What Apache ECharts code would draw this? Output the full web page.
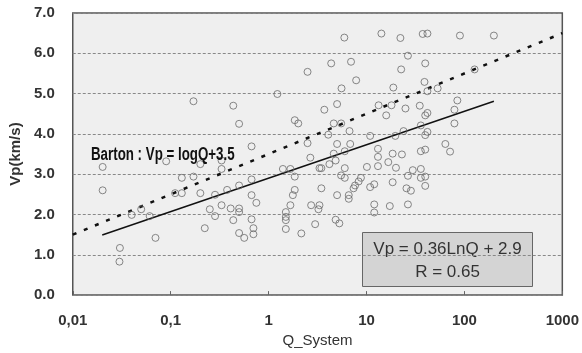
<!DOCTYPE html>
<html>
<head>
<meta charset="utf-8">
<script src="https://cdn.jsdelivr.net/npm/echarts@6/dist/echarts.min.js"></script>
<style>
html,body{margin:0;padding:0;background:#fff;}
#c{width:582px;height:353px;}
</style>
</head>
<body>
<div id="c"></div>
<script>
// Q_System values and measured Vp (km/s)
const qValues = [0.0202,0.0202,0.0303,0.03,0.040,0.050,0.061,0.070,0.090,0.111,0.130,0.130,0.171,0.171,0.201,0.201,0.223,0.251,0.284,0.284,0.331,0.331,0.331,0.377,0.410,0.436,0.436,0.50,0.50,0.50,0.50,0.50,0.564,0.67,0.67,0.67,0.67,0.70,0.70,0.75,1.23,1.40,1.50,1.50,1.50,1.50,1.67,1.67,1.77,1.85,1.85,1.85,2.01,2.16,2.50,2.50,2.67,2.72,2.99,3.23,3.31,3.31,3.46,3.46,3.71,4.07,4.18,4.36,4.63,4.63,4.84,4.84,5.01,5.01,5.01,5.28,5.51,5.56,5.5,5.94,6.0,6.0,6.0,6.59,6.59,6.71,6.82,6.95,7.38,7.64,7.84,8.32,8.77,10.1,10.9,10.9,12.0,12.0,12.0,13.1,13.1,13.1,13.3,14.2,15.9,16.7,17.3,18.0,18.5,18.5,18.8,19.7,20.0,22.2,22.6,23.0,23.9,25.0,25.6,26.5,26.5,26.5,28.4,29.7,35.0,35.9,35.9,35.9,35.9,37.5,39.1,39.8,39.8,39.8,39.8,39.8,39.8,41.9,41.9,41.9,41.9,53.3,63.9,71.4,79.1,79.1,84.7,90.0,127,200];
const vpValues = [3.18,2.60,1.17,0.83,1.99,2.13,1.96,1.42,3.32,2.53,2.53,2.91,4.81,2.94,3.25,2.53,1.66,2.13,1.96,2.49,3.34,3.13,2.23,2.61,2.15,4.70,1.86,4.25,2.72,2.15,2.06,1.54,1.42,3.69,2.87,2.48,1.88,1.66,1.51,2.29,4.99,3.13,2.06,1.94,1.86,1.64,3.13,2.23,2.48,2.61,2.94,4.34,4.26,1.53,5.54,3.77,3.41,2.23,1.76,2.13,2.23,3.15,3.15,2.65,4.60,3.98,3.25,5.75,4.26,3.51,3.34,1.87,3.75,4.74,2.48,1.78,4.26,5.13,2.97,6.39,3.57,3.15,2.91,2.48,2.39,4.07,3.75,5.79,2.65,2.72,5.33,2.82,2.91,3.18,3.95,2.68,2.75,2.25,2.05,3.63,3.43,3.20,4.71,6.49,4.46,3.30,2.21,4.71,3.51,2.80,5.15,3.95,3.16,6.38,5.60,3.49,4.07,4.63,2.65,5.94,2.96,2.25,2.59,3.10,4.70,3.57,3.13,2.91,4.21,6.48,5.29,5.75,4.46,3.97,3.61,2.94,2.71,6.49,4.52,4.05,5.06,5.13,3.75,3.56,4.60,4.26,4.83,6.44,5.60,6.44];
// Line endpoints [Q, Vp]
const bartonLine = [[0.01, 1.5], [1000, 6.5]];
const fitLine = [[0.02, 1.49], [200, 4.81]];
// Tick labels
const xTickLabels = ['0,01', '0,1', '1', '10', '100', '1000'];
const yTickLabels = ['0.0', '1.0', '2.0', '3.0', '4.0', '5.0', '6.0', '7.0'];
const bartonText = 'Barton : Vp = logQ+3.5';
const fitText = ['Vp = 0.36LnQ + 2.9', 'R = 0.65'];

const scatterData = qValues.map((q, i) => [q, vpValues[i]]);

const chart = echarts.init(document.getElementById('c'), null, {renderer: 'canvas'});
const labelFont = {fontFamily: 'Liberation Sans, Arial, sans-serif', fontSize: 15, color: '#333', fontWeight: 'bold'};
chart.setOption({
  animation: false,
  backgroundColor: '#fff',
  grid: {left: 66, right: 19, top: 13, bottom: 53, show: true, backgroundColor: '#efefef', borderColor: '#555', borderWidth: 1.5},
  xAxis: {
    type: 'log', logBase: 10, min: 0.01, max: 1000,
    name: 'Q_System', nameLocation: 'middle', nameGap: 36,
    nameTextStyle: {fontFamily: 'Liberation Sans, Arial, sans-serif', fontSize: 15, color: '#333'},
    axisLine: {show: false},
    axisTick: {show: true, inside: true, length: 4, lineStyle: {color: '#666'}},
    minorTick: {show: false},
    splitLine: {show: false},
    axisLabel: Object.assign({margin: 18, formatter: v => xTickLabels[Math.round(Math.log10(v)) + 2]}, labelFont)
  },
  yAxis: {
    type: 'value', min: 0, max: 7, interval: 1,
    name: 'Vp(km/s)', nameLocation: 'middle', nameGap: 47,
    nameTextStyle: {fontFamily: 'Liberation Sans, Arial, sans-serif', fontSize: 15, color: '#333', fontWeight: 'bold'},
    axisLine: {show: false},
    axisTick: {show: false},
    splitLine: {show: true, lineStyle: {type: [3, 2], color: '#888', width: 1}},
    axisLabel: Object.assign({margin: 18, formatter: v => yTickLabels[Math.round(v)]}, labelFont)
  },
  series: [
    {
      type: 'line', data: bartonLine, symbol: 'none', silent: true,
      lineStyle: {color: '#111', width: 2.5, type: [4, 8]}, z: 3
    },
    {
      type: 'line', data: fitLine, symbol: 'none', silent: true,
      lineStyle: {color: '#111', width: 1.5, type: 'solid'}, z: 3
    },
    {
      type: 'scatter', data: scatterData, symbol: 'circle', symbolSize: 7,
      itemStyle: {color: 'rgba(0,0,0,0)', borderColor: '#6a6a6a', borderWidth: 1}, z: 4
    }
  ],
  graphic: [
    {
      type: 'text', x: 91, y: 155, scaleX: 0.74, z: 10,
      style: {text: bartonText, font: 'bold 18px "Liberation Sans", Arial', fill: '#111', verticalAlign: 'middle'}
    },
    {
      type: 'group', left: 362, top: 232, z: 10,
      children: [
        {type: 'rect', shape: {x: 0, y: 0, width: 170, height: 54}, style: {fill: '#d4d4d4', stroke: '#666', lineWidth: 1}},
        {type: 'text', x: 85, y: 17, style: {text: fitText[0], font: '17px "Liberation Sans", Arial', fill: '#333', align: 'center', verticalAlign: 'middle'}},
        {type: 'text', x: 85, y: 40, style: {text: fitText[1], font: '17px "Liberation Sans", Arial', fill: '#333', align: 'center', verticalAlign: 'middle'}}
      ]
    }
  ]
});
</script>
</body>
</html>
